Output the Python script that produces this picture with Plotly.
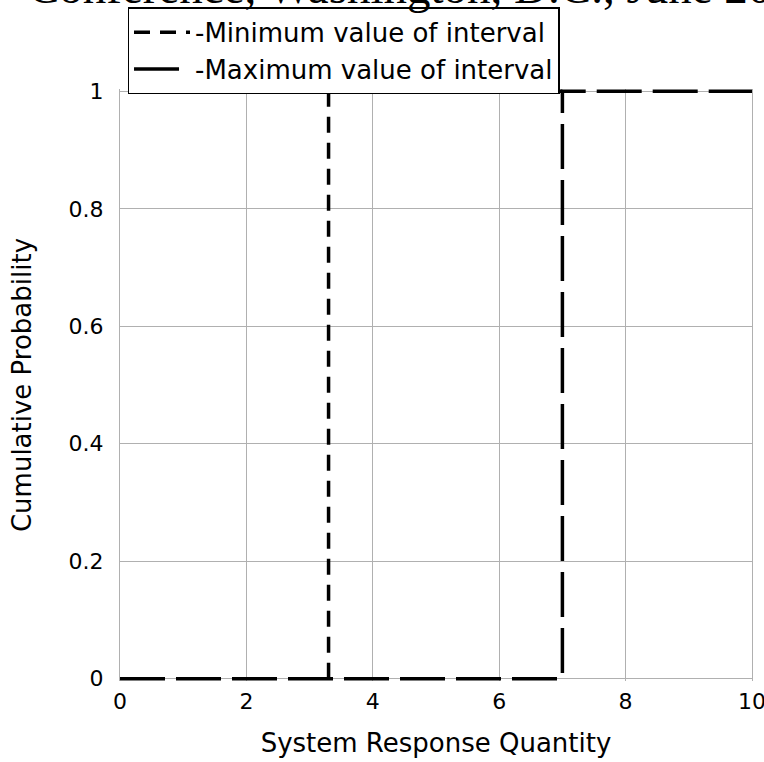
import plotly.graph_objects as go

# Step CDFs of an interval-valued quantity
min_x = [3.3, 3.3, 7.0]
min_y = [0.0, 1.0, 1.0]
max_x = [0.0, 7.0, 7.0, 10.0]
max_y = [0.0, 0.0, 1.0, 1.0]

names = ["-Minimum value of interval", "-Maximum value of interval"]
x_ticks = [0, 2, 4, 6, 8, 10]
y_ticks = [0, 0.2, 0.4, 0.6, 0.8, 1]
y_tick_text = ["0", "0.2", "0.4", "0.6", "0.8", "1"]
title_text = "Conference, Washington, D.C., June 2004"

SANS = "DejaVu Sans, Liberation Sans, Arial, sans-serif"
SERIF = "Liberation Serif, Times New Roman, serif"

fig = go.Figure()
fig.add_trace(go.Scatter(x=min_x, y=min_y, mode="lines", name=names[0],
                         line=dict(color="black", width=3.5, dash="16px,10px"),
                         hoverinfo="skip"))
fig.add_trace(go.Scatter(x=max_x, y=max_y, mode="lines", name=names[1],
                         line=dict(color="black", width=3.5, dash="45px,11px"),
                         hoverinfo="skip"))

fig.add_annotation(text=title_text, xref="paper", yref="paper",
                   x=-0.1494, y=1.1725, xanchor="left", yanchor="middle",
                   showarrow=False, font=dict(family=SERIF, size=47, color="black"))

fig.update_layout(
    width=764, height=762,
    margin=dict(l=119.5, r=12, t=88.6, b=80.6, autoexpand=False),
    paper_bgcolor="white", plot_bgcolor="white",
    showlegend=True,
    legend=dict(x=0.0119, y=1.138, xanchor="left", yanchor="top",
                bgcolor="white", bordercolor="black", borderwidth=1.5,
                font=dict(family=SANS, size=26, color="black"),
                itemwidth=56, traceorder="normal"),
    xaxis=dict(range=[0, 10], tickvals=x_ticks, ticktext=[str(v) for v in x_ticks],
               showgrid=True, gridcolor="#b0b0b0", gridwidth=1,
               showline=False, zeroline=False, ticks="", ticklabelstandoff=5,
               ticklabeloverflow="allow",
               tickfont=dict(family=SANS, size=22, color="black"),
               title=dict(text="System Response Quantity", standoff=20,
                          font=dict(family=SANS, size=26, color="black"))),
    yaxis=dict(range=[-0.004, 1.004], tickvals=y_ticks, ticktext=y_tick_text,
               showgrid=True, gridcolor="#b0b0b0", gridwidth=1,
               showline=True, linecolor="#b0b0b0", linewidth=1, mirror=True,
               zeroline=False, ticks="", ticklabelstandoff=11,
               tickfont=dict(family=SANS, size=22, color="black"),
               title=dict(text="Cumulative Probability", standoff=29,
                          font=dict(family=SANS, size=26, color="black"))),
)

fig.write_html("out.html", config={"displayModeBar": False},
               post_script="document.body.style.margin='0';")
